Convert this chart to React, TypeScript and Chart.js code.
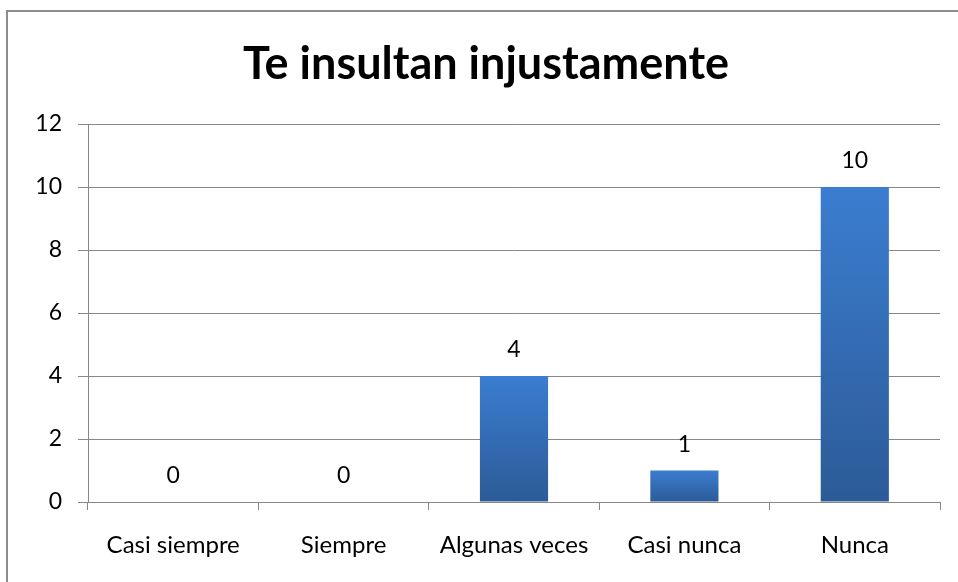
import React, { useEffect, useRef } from "react";
import { Chart, registerables } from "chart.js";

Chart.register(...registerables);

const categories = ["Casi siempre", "Siempre", "Algunas veces", "Casi nunca", "Nunca"];
const values = [0, 0, 4, 1, 10];
const titleText = "Te insultan injustamente";
const yMin = 0;
const yMax = 12;
const yStep = 2;

const FONT = "Lato, 'Open Sans', sans-serif";
const GRID = "#878787";

const frame = {
  id: "frame",
  beforeDraw(chart: any) {
    const c = chart.ctx;
    c.save();
    c.fillStyle = "#ffffff";
    c.fillRect(0, 0, chart.width, chart.height);
    c.strokeStyle = "#8c8c8c";
    c.lineWidth = 2;
    c.strokeRect(7, 11, chart.width + 20, chart.height + 20);
    c.restore();
  },
};

const valueLabels = {
  id: "valueLabels",
  afterDatasetsDraw(chart: any) {
    const c = chart.ctx;
    const meta = chart.getDatasetMeta(0);
    c.save();
    c.font = `23px ${FONT}`;
    c.fillStyle = "#000";
    c.textAlign = "center";
    c.textBaseline = "middle";
    meta.data.forEach((bar: any, i: number) => {
      c.fillText(String(values[i]), bar.x, bar.y - 26);
    });
    c.restore();
  },
};

export default function App() {
  const ref = useRef<HTMLCanvasElement>(null);
  useEffect(() => {
    if (!ref.current) return;
    const chart = new Chart(ref.current, {
      type: "bar",
      data: {
        labels: categories,
        datasets: [
          {
            data: values,
            backgroundColor: (ctx: any) => {
              const ch = ctx.chart;
              const ys = ch.scales && ch.scales.y;
              if (!ys || !ch.chartArea || ctx.dataIndex === undefined) return "#3570b8";
              const v = values[ctx.dataIndex];
              const top = ys.getPixelForValue(v);
              const bottom = ys.getPixelForValue(0);
              if (!isFinite(top) || !isFinite(bottom) || top === bottom) return "#3570b8";
              const g = ch.ctx.createLinearGradient(0, top, 0, bottom);
              g.addColorStop(0, "#3b7dd0");
              g.addColorStop(1, "#2c5b97");
              return g;
            },
            borderWidth: 0,
            barPercentage: 0.4,
            categoryPercentage: 1,
          },
        ],
      },
      options: {
        animation: false,
        responsive: false,
        maintainAspectRatio: false,
        layout: { padding: { left: 32, right: 18, top: 0, bottom: 0 } },
        plugins: {
          legend: { display: false },
          tooltip: { enabled: false },
          title: {
            display: true,
            text: titleText,
            color: "#000",
            font: { family: FONT, size: 45, weight: "bold" },
            padding: { top: 37, bottom: 33 },
          },
        },
        scales: {
          x: {
            offset: true,
            grid: {
              offset: true,
              drawOnChartArea: false,
              drawTicks: true,
              tickLength: 8,
              color: GRID,
            },
            border: { display: true, color: GRID, width: 1 },
            ticks: {
              color: "#000",
              font: { family: FONT, size: 24 },
              padding: 21,
              maxRotation: 0,
              autoSkip: false,
            },
            afterFit: (s: any) => {
              s.height = 80;
            },
          },
          y: {
            min: yMin,
            max: yMax,
            grid: {
              drawOnChartArea: true,
              drawTicks: true,
              tickLength: 10,
              color: GRID,
            },
            border: { display: true, color: GRID, width: 1 },
            ticks: {
              stepSize: yStep,
              color: "#000",
              font: { family: FONT, size: 23 },
              padding: 16,
            },
            afterFit: (s: any) => {
              s.width = 56;
            },
          },
        },
      },
      plugins: [frame, valueLabels],
    });
    return () => chart.destroy();
  }, []);
  return (
    <div style={{ position: "fixed", left: 0, top: 0, width: 958, height: 582, background: "#fff" }}>
      <canvas ref={ref} width={958} height={582} style={{ display: "block", width: 958, height: 582 }} />
    </div>
  );
}
